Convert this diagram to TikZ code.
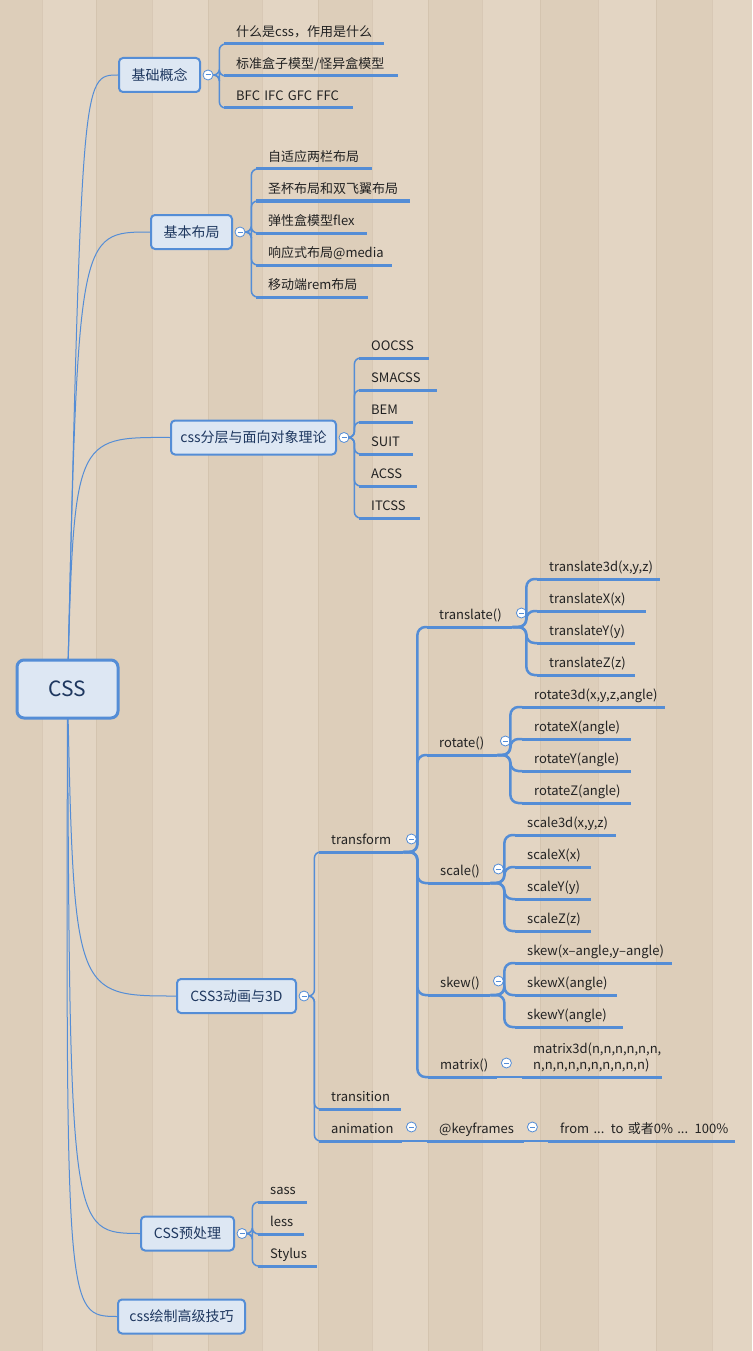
\documentclass[tikz,border=0pt]{standalone}
\usepackage{fontspec}
\setmainfont{Noto Sans CJK SC}
\definecolor{woodA}{RGB}{227,213,195}
\definecolor{woodB}{RGB}{221,206,186}
\definecolor{woodL}{RGB}{200,182,160}
\definecolor{edge}{RGB}{84,141,214}
\definecolor{boxfill}{RGB}{221,231,243}
\definecolor{boxtext}{RGB}{30,55,95}
\definecolor{leaftext}{RGB}{34,34,34}
\pgfdeclarelayer{wood}
\pgfdeclarelayer{links}
\pgfsetlayers{wood,links,main}
\tikzset{
  topic/.style={draw=edge, line width=2pt, fill=boxfill, rounded corners=4pt, text=boxtext,
    font=\fontsize{14}{16}\selectfont, inner sep=0pt, minimum height=34pt},
  rootbox/.style={topic, line width=3pt, rounded corners=7pt, font=\fontsize{21}{24}\selectfont,
    minimum width=101pt, minimum height=58pt},
  leaf/.style={anchor=south west, inner xsep=0pt, inner ysep=4pt, text height=10pt, text depth=3pt,
    align=left, text=leaftext, font=\fontsize{13}{16}\selectfont},
  uline/.style={draw=edge, line width=3pt},
  brone/.style={draw=edge, line width=1.5pt, rounded corners=6pt},
  brtwo/.style={draw=edge, line width=2.5pt, rounded corners=8pt},
  thin/.style={draw=edge, line width=1.5pt},
  rootlink/.style={draw=edge, line width=1pt},
  fold/.style={circle, draw=edge, fill=white, line width=0.8pt, minimum size=10pt, inner sep=0pt,
    path picture={\draw[edge, line width=1pt] ([xshift=-2.5pt]path picture bounding box.center)
      -- ([xshift=2.5pt]path picture bounding box.center);}},
}
\newcommand\leaf[5]{%
  \node[leaf, text width=#4pt] (#1) at (#2,#3) {\hspace*{12pt}#5};
  \draw[uline] (#1.south west) -- (#1.south east);}
\begin{document}
\begin{tikzpicture}[x=1pt,y=-1pt]
\useasboundingbox (0,0) rectangle (752,1351);
\begin{pgfonlayer}{wood}
  \fill[woodA] (0,0) rectangle (752,1351);
  \foreach \a/\b in {0/42, 96/152, 208/262, 318/372, 428/482, 540/598, 656/712}{
    \fill[woodB] (\a,0) rectangle (\b,1351);}
  \foreach \a in {42,96,152,208,262,318,372,428,482,540,598,656,712}{
    \draw[woodL, line width=0.6pt, opacity=0.4] (\a,0) -- (\a,1351);}
\end{pgfonlayer}

% root and first level topics
\node[rootbox] (root) at (67.5,689) {CSS};
\node[topic, minimum width=81pt] (t1) at (159.5,75) {基础概念};
\node[topic, minimum width=81pt] (t2) at (191.5,232) {基本布局};
\node[topic, minimum width=165pt] (t3) at (253.5,437.5) {css分层与面向对象理论};
\node[topic, minimum width=119pt] (t4) at (236.5,996) {CSS3动画与3D};
\node[topic, minimum width=93pt] (t5) at (187.5,1233.5) {CSS预处理};
\node[topic, minimum width=127pt] (t6) at (181.5,1316.5) {css绘制高级技巧};

\begin{pgfonlayer}{links}
  \draw[rootlink] (root.center) .. controls (82,75) .. (t1.west);
  \draw[rootlink] (root.center) .. controls (78,232) .. (t2.west);
  \draw[rootlink] (root.center) .. controls (74,437) .. (t3.west);
  \draw[rootlink] (root.center) .. controls (74,996) .. (t4.west);
  \draw[rootlink] (root.center) .. controls (70,1233) .. (t5.west);
  \draw[rootlink] (root.center) .. controls (66,1316) .. (t6.west);
\end{pgfonlayer}

% fold markers of first level
\node[fold] (f1) at ([xshift=7pt]t1.east) {};
\node[fold] (f2) at ([xshift=7pt]t2.east) {};
\node[fold] (f3) at ([xshift=7pt]t3.east) {};
\node[fold] (f4) at ([xshift=7pt]t4.east) {};
\node[fold] (f5) at ([xshift=7pt]t5.east) {};

% 基础概念
\leaf{a1}{224}{44}{160}{什么是css，作用是什么}
\leaf{a2}{224}{76}{174}{标准盒子模型/怪异盒模型}
\leaf{a3}{224}{108}{129}{BFC IFC GFC FFC}
\foreach \c in {a1,a2,a3}{\draw[brone] (f1.east) -- ++(6,0) |- (\c.south west);}

% 基本布局
\leaf{b1}{256}{169}{116}{自适应两栏布局}
\leaf{b2}{256}{201}{154}{圣杯布局和双飞翼布局}
\leaf{b3}{256}{233}{111}{弹性盒模型flex}
\leaf{b4}{256}{265}{136}{响应式布局@media}
\leaf{b5}{256}{297}{112}{移动端rem布局}
\foreach \c in {b1,b2,b3,b4,b5}{\draw[brone] (f2.east) -- ++(6,0) |- (\c.south west);}

% css分层
\leaf{c1}{359}{358}{70}{OOCSS}
\leaf{c2}{359}{390}{78}{SMACSS}
\leaf{c3}{359}{422}{54}{BEM}
\leaf{c4}{359}{454}{54}{SUIT}
\leaf{c5}{359}{486}{58}{ACSS}
\leaf{c6}{359}{518}{61}{ITCSS}
\foreach \c in {c1,c2,c3,c4,c5,c6}{\draw[brone] (f3.east) -- ++(5,0) |- (\c.south west);}

% CSS3动画与3D
\leaf{d1}{319}{852}{84}{transform}
\leaf{d2}{319}{1109}{82}{transition}
\leaf{d3}{319}{1141}{83}{animation}
\foreach \c in {d1,d2,d3}{\draw[brone] (f4.east) -- ++(5,0) |- (\c.south west);}
\node[fold] (fd1) at ([xshift=8pt,yshift=13pt]d1.south east) {};
\node[fold] (fd3) at ([xshift=9pt,yshift=14pt]d3.south east) {};

% transform children
\leaf{e1}{427}{627}{85}{translate()}
\leaf{e2}{427}{755}{70}{rotate()}
\leaf{e3}{428}{883}{62}{scale()}
\leaf{e4}{428}{995}{62}{skew()}
\leaf{e5}{428}{1077}{69}{matrix()}
\foreach \c in {e1,e2,e3,e4,e5}{\draw[brtwo] (d1.south east) -- ++(14,0) |- (\c.south west);}
\node[fold] (fe1) at ([xshift=9pt,yshift=14pt]e1.south east) {};
\node[fold] (fe2) at ([xshift=8pt,yshift=14pt]e2.south east) {};
\node[fold] (fe3) at ([xshift=8pt,yshift=14pt]e3.south east) {};
\node[fold] (fe4) at ([xshift=8pt,yshift=14pt]e4.south east) {};
\node[fold] (fe5) at ([xshift=9pt,yshift=14pt]e5.south east) {};

% translate()
\leaf{g1}{537}{579}{123}{translate3d(x,y,z)}
\leaf{g2}{537}{611}{109}{translateX(x)}
\leaf{g3}{537}{643}{98}{translateY(y)}
\leaf{g4}{537}{675}{98}{translateZ(z)}
\foreach \c in {g1,g2,g3,g4}{\draw[brtwo] (e1.south east) -- ++(14,0) |- (\c.south west);}

% rotate()
\leaf{h1}{522}{707}{143}{rotate3d(x,y,z,angle)}
\leaf{h2}{522}{739}{109}{rotateX(angle)}
\leaf{h3}{522}{771}{109}{rotateY(angle)}
\leaf{h4}{522}{803}{109}{rotateZ(angle)}
\foreach \c in {h1,h2,h3,h4}{\draw[brtwo] (e2.south east) -- ++(13,0) |- (\c.south west);}

% scale()
\leaf{i1}{515}{835}{101}{scale3d(x,y,z)}
\leaf{i2}{515}{867}{76}{scaleX(x)}
\leaf{i3}{515}{899}{76}{scaleY(y)}
\leaf{i4}{515}{931}{76}{scaleZ(z)}
\foreach \c in {i1,i2,i3,i4}{\draw[brtwo] (e3.south east) -- ++(14,0) |- (\c.south west);}

% skew()
\leaf{j1}{515}{963}{157}{skew(x–angle,y–angle)}
\leaf{j2}{515}{995}{102}{skewX(angle)}
\leaf{j3}{515}{1027}{108}{skewY(angle)}
\foreach \c in {j1,j2,j3}{\draw[brtwo] (e4.south east) -- ++(14,0) |- (\c.south west);}

% matrix()
\node[leaf, text width=140pt, text depth=19pt] (k1) at (522,1077)
  {\hspace*{11pt}matrix3d(n,n,n,n,n,n,\\\hspace*{11pt}n,n,n,n,n,n,n,n,n,n)};
\draw[uline] (k1.south west) -- (k1.south east);
\draw[thin] (e5.south east) -- (k1.south west);

% animation
\leaf{m1}{427}{1141}{97}{@keyframes}
\leaf{m2}{548}{1141}{187}{from ... to 或者0\% ... 100\%}
\node[fold] (fm1) at ([xshift=8pt,yshift=14pt]m1.south east) {};
\draw[thin] (d3.south east) -- (m1.south west);
\draw[thin] (m1.south east) -- (m2.south west);

% CSS预处理
\leaf{p1}{258}{1202}{49}{sass}
\leaf{p2}{258}{1234}{46}{less}
\leaf{p3}{258}{1266}{59}{Stylus}
\foreach \c in {p1,p2,p3}{\draw[brone] (f5.east) -- ++(5,0) |- (\c.south west);}
\end{tikzpicture}
\end{document}
